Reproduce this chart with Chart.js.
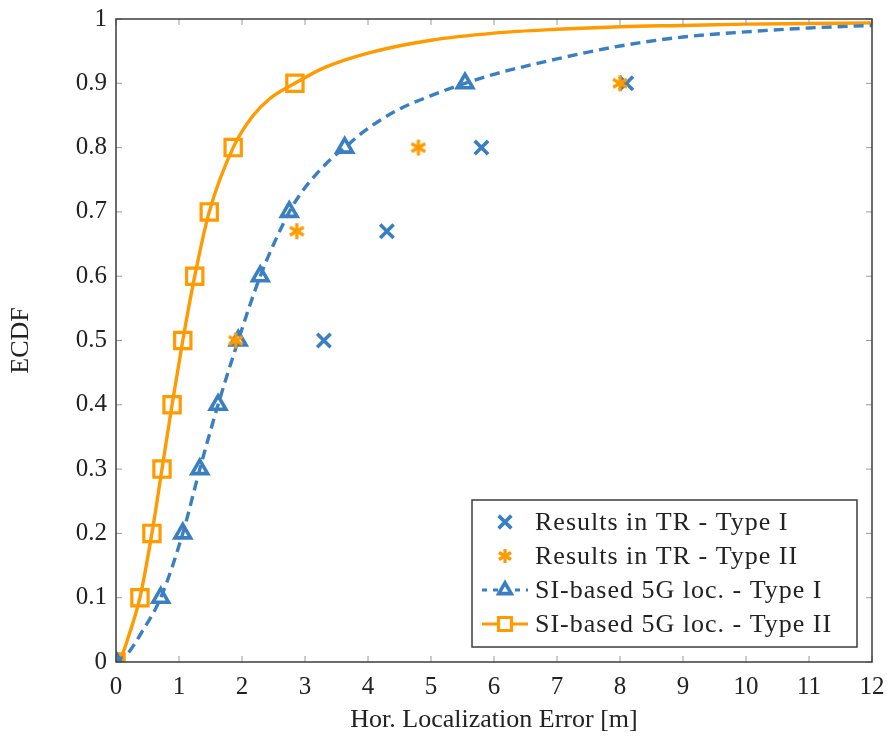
<!DOCTYPE html>
<html>
<head>
<meta charset="utf-8">
<script src="https://cdn.jsdelivr.net/npm/chart.js@4.4.1/dist/chart.umd.min.js"></script>
<style>
  html,body{margin:0;padding:0;background:#fff;}
  #wrap{width:887px;height:738px;}
</style>
</head>
<body>
<div id="wrap"><canvas id="c" width="887" height="738"></canvas></div>
<script>
// ---- data ----
const xTickLabels=['0','1','2','3','4','5','6','7','8','9','10','11','12'];
const yTickLabels=['0','0.1','0.2','0.3','0.4','0.5','0.6','0.7','0.8','0.9','1'];

// ECDF levels where the markers sit
const levels=[0,0.1,0.2,0.3,0.4,0.5,0.6,0.7,0.8,0.9];
const siType1X=[0,0.71,1.06,1.33,1.62,1.94,2.29,2.75,3.63,5.54];
const siType2X=[0,0.38,0.57,0.73,0.89,1.06,1.25,1.48,1.86,2.84];

// smooth curves
const curve1X=[0,0.2,0.4,0.71,1.06,1.33,1.62,1.94,2.29,2.75,2.95,3.19,3.43,3.63,3.92,4.46,4.98,5.54,6,7,8,9,10,11,12];
const curve1Y=[0,0.015,0.045,0.1,0.2,0.3,0.4,0.5,0.6,0.7,0.731,0.76,0.784,0.8,0.824,0.858,0.88,0.9,0.914,0.938,0.958,0.972,0.98,0.986,0.99];
const curve2X=[0,0.1,0.2,0.38,0.57,0.73,0.89,1.06,1.25,1.48,1.86,2.17,2.44,2.84,3.3,4,5,6,7,8,9,10,11,12];
const curve2Y=[0,0.012,0.04,0.1,0.2,0.3,0.4,0.5,0.6,0.7,0.8,0.849,0.876,0.9,0.924,0.947,0.967,0.978,0.984,0.988,0.99,0.992,0.993,0.994];

// results in TR
const trType1X=[3.3,4.3,5.8,8.1];
const trType1Y=[0.5,0.67,0.8,0.9];
const trType2X=[1.9,2.87,4.8,8.0];
const trType2Y=[0.5,0.67,0.8,0.9];

const BLUE='#3a7fc1', ORANGE='#ff9a00';
const FONT='"Liberation Serif", "DejaVu Serif", serif';
const pts=(xs,ys)=>xs.map((x,i)=>({x:x,y:ys[i]}));

// six-spoke asterisk like pgfplots' '*' mark
function asterisk(color,r){
  const c=document.createElement('canvas'); c.width=c.height=2*r+6;
  const g=c.getContext('2d'), m=c.width/2;
  g.strokeStyle=color; g.lineWidth=3.2; g.lineCap='butt';
  [90,30,150].forEach(a=>{const t=a*Math.PI/180;
    g.beginPath(); g.moveTo(m-Math.cos(t)*r,m-Math.sin(t)*r); g.lineTo(m+Math.cos(t)*r,m+Math.sin(t)*r); g.stroke();});
  return c;
}
const starImg=asterisk(ORANGE,8);
const starImgSmall=asterisk(ORANGE,7);

// no extra label overhang: the plot box is set by layout padding
const noPad=s=>{s.paddingLeft=s.paddingRight=s.paddingTop=s.paddingBottom=0;};

// frame + inward ticks on all four sides
const framePlugin={id:'frame',
  afterDatasetsDraw(ch){
    const a=ch.chartArea, ctx=ch.ctx, sx=ch.scales.x, sy=ch.scales.y;
    ctx.save();
    ctx.strokeStyle='#9a9a9a'; ctx.lineWidth=1;
    ctx.beginPath();
    xTickLabels.forEach((t,i)=>{const p=sx.getPixelForValue(i);
      ctx.moveTo(p,a.bottom);ctx.lineTo(p,a.bottom-6);ctx.moveTo(p,a.top);ctx.lineTo(p,a.top+6);});
    yTickLabels.forEach((t,i)=>{const p=sy.getPixelForValue(i/10);
      ctx.moveTo(a.left,p);ctx.lineTo(a.left+6,p);ctx.moveTo(a.right,p);ctx.lineTo(a.right-6,p);});
    ctx.stroke();
    ctx.strokeStyle='#3c3c3c'; ctx.lineWidth=1.5;
    ctx.strokeRect(a.left,a.top,a.right-a.left,a.bottom-a.top);
    ctx.restore();
  }};

// legend box in the lower right
const legendPlugin={id:'boxLegend',
  afterDraw(ch){
    const ctx=ch.ctx;
    const bx=472, by=500, bw=385, bh=147;
    ctx.save();
    ctx.fillStyle='#fff'; ctx.fillRect(bx,by,bw,bh);
    ctx.strokeStyle='#3c3c3c'; ctx.lineWidth=1.5; ctx.strokeRect(bx,by,bw,bh);
    const rows=[
      {label:'Results in TR - Type I', ds:0, k:0.95},
      {label:'Results in TR - Type II', ds:1, img:starImgSmall},
      {label:'SI-based 5G loc. - Type I', ds:2, line:true, dash:[5,6]},
      {label:'SI-based 5G loc. - Type II', ds:3, line:true, dash:[]},
    ];
    rows.forEach((r,i)=>{
      const y=by+22+i*34, cx=505;
      const d=ch.data.datasets[r.ds];
      if(r.line){
        ctx.strokeStyle=d.borderColor; ctx.lineWidth=3; ctx.setLineDash(r.dash);
        ctx.beginPath(); ctx.moveTo(482,y); ctx.lineTo(528,y); ctx.stroke(); ctx.setLineDash([]);
      }
      ctx.lineWidth=d.pointBorderWidth;
      ctx.strokeStyle=d.pointBorderColor||d.borderColor;
      ctx.fillStyle='#fff';
      Chart.helpers.drawPoint(ctx,{pointStyle:r.img||d.pointStyle,radius:d.pointRadius*(r.k||0.8),rotation:0,borderWidth:d.pointBorderWidth},cx,y);
      ctx.fillStyle='#222'; ctx.font='26px '+FONT; ctx.textBaseline='middle'; ctx.textAlign='left';
      ctx.letterSpacing='1px';
      ctx.fillText(r.label,535,y+1);
      ctx.letterSpacing='0px';
    });
    ctx.restore();
  }};

new Chart(document.getElementById('c'),{
  type:'scatter',
  data:{datasets:[
    {label:'Results in TR - Type I',data:pts(trType1X,trType1Y),showLine:false,pointStyle:'crossRot',
     pointRadius:9.5,pointBorderWidth:3.6,borderColor:BLUE,pointBorderColor:BLUE,backgroundColor:BLUE,order:1},
    {label:'Results in TR - Type II',data:pts(trType2X,trType2Y),showLine:false,pointStyle:starImg,
     pointRadius:8,pointBorderWidth:3,borderColor:ORANGE,pointBorderColor:ORANGE,backgroundColor:ORANGE,order:0},
    {label:'SI-based 5G loc. - Type I',data:pts(siType1X,levels),showLine:false,pointStyle:'triangle',
     pointRadius:9,pointBorderWidth:3.6,borderColor:BLUE,pointBorderColor:BLUE,pointBackgroundColor:'rgba(0,0,0,0)',order:2},
    {label:'SI-based 5G loc. - Type II',data:pts(siType2X,levels),showLine:false,pointStyle:'rect',
     pointRadius:11.5,pointBorderWidth:3.2,borderColor:ORANGE,pointBorderColor:ORANGE,pointBackgroundColor:'rgba(0,0,0,0)',order:3},
    {label:'c1',data:pts(curve1X,curve1Y),showLine:true,pointRadius:0,borderColor:BLUE,borderWidth:3.4,
     borderDash:[10,6],cubicInterpolationMode:'monotone',order:4},
    {label:'c2',data:pts(curve2X,curve2Y),showLine:true,pointRadius:0,borderColor:ORANGE,borderWidth:3.4,
     cubicInterpolationMode:'monotone',order:5},
  ]},
  options:{
    responsive:false,animation:false,
    layout:{padding:{top:19,right:15,left:0,bottom:0}},
    plugins:{legend:{display:false},tooltip:{enabled:false}},
    scales:{
      x:{type:'linear',min:0,max:12,
        afterFit:s=>{s.height=76;noPad(s);},
        afterBuildTicks:s=>{s.ticks=xTickLabels.map((t,i)=>({value:i}));},
        grid:{display:false,drawTicks:false},border:{display:false},
        ticks:{color:'#222',font:{family:FONT,size:25},padding:10,maxRotation:0,
          callback:(v,i)=>xTickLabels[i]},
        title:{display:true,text:'Hor. Localization Error [m]',color:'#222',font:{family:FONT,size:26},padding:{top:0,bottom:2}}},
      y:{type:'linear',min:0,max:1,
        afterFit:s=>{s.width=116;noPad(s);},
        afterBuildTicks:s=>{s.ticks=yTickLabels.map((t,i)=>({value:i/10}));},
        grid:{display:false,drawTicks:false},border:{display:false},
        ticks:{color:'#222',font:{family:FONT,size:25},padding:9,
          callback:(v,i)=>yTickLabels[i]},
        title:{display:true,text:'ECDF',color:'#222',font:{family:FONT,size:26},padding:{top:6,bottom:0}}}
    }
  },
  plugins:[framePlugin,legendPlugin]
});
</script>
</body>
</html>
